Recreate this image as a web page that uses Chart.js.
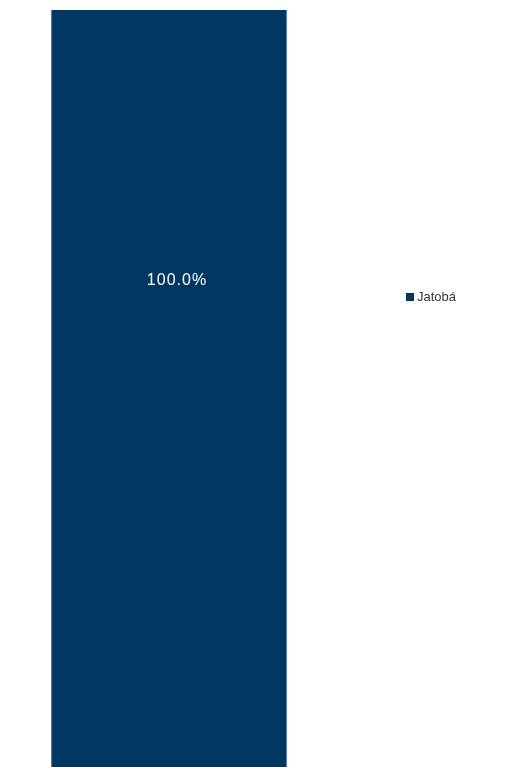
<!DOCTYPE html>
<html>
<head>
<meta charset="utf-8">
<script src="https://cdn.jsdelivr.net/npm/chart.js@4"></script>
<style>
  html, body { margin: 0; padding: 0; background: #fff; overflow: hidden; }
  #wrap { width: 528px; height: 790px; position: relative; }
</style>
</head>
<body>
<div id="wrap"><canvas id="chart"></canvas></div>
<script>
// single species share
const categories = [""];
const seriesName = "Jatobá";
const seriesValues = [100.0];
const barColor = "#033763";

// value label in the bar, legend on the right (drawn by hand so they can sit where we want)
const extras = {
  id: "extras",
  afterDatasetsDraw(chart) {
    const ctx = chart.ctx;
    const meta = chart.getDatasetMeta(0);
    ctx.save();
    meta.data.forEach((bar, i) => {
      const v = chart.data.datasets[0].data[i];
      const top = bar.y;
      const bottom = bar.base;
      ctx.fillStyle = "#ffffff";
      ctx.font = "16px 'Liberation Sans', Arial, sans-serif";
      ctx.letterSpacing = "1px";
      ctx.textAlign = "center";
      ctx.textBaseline = "middle";
      ctx.fillText(v.toFixed(1) + "%", bar.x + 8, top + (bottom - top) * 0.347);
    });
    // legend
    const lx = 406, ly = 297;
    ctx.letterSpacing = "0px";
    ctx.fillStyle = barColor;
    ctx.fillRect(lx, ly - 4, 8, 8);
    ctx.fillStyle = "#333333";
    ctx.font = "13px 'Liberation Sans', Arial, sans-serif";
    ctx.textAlign = "left";
    ctx.textBaseline = "middle";
    ctx.fillText(chart.data.datasets[0].label, lx + 11, ly);
    ctx.restore();
  }
};

const chart = new Chart(document.getElementById("chart"), {
  type: "bar",
  data: {
    labels: categories,
    datasets: [{
      label: seriesName,
      data: seriesValues,
      backgroundColor: barColor,
      borderColor: "#4f76a0",
      borderWidth: { left: 1, right: 1, top: 0, bottom: 0 },
      borderSkipped: false,
      categoryPercentage: 1,
      barPercentage: 0.698
    }]
  },
  options: {
    responsive: true,
    maintainAspectRatio: false,
    animation: false,
    layout: { padding: { left: 0, right: 190, top: 10, bottom: 0 } },
    scales: {
      x: { display: false },
      y: { display: false, min: 0, max: 100 }
    },
    plugins: {
      legend: { display: false },
      tooltip: { enabled: false }
    }
  },
  plugins: [extras]
});
</script>
</body>
</html>
